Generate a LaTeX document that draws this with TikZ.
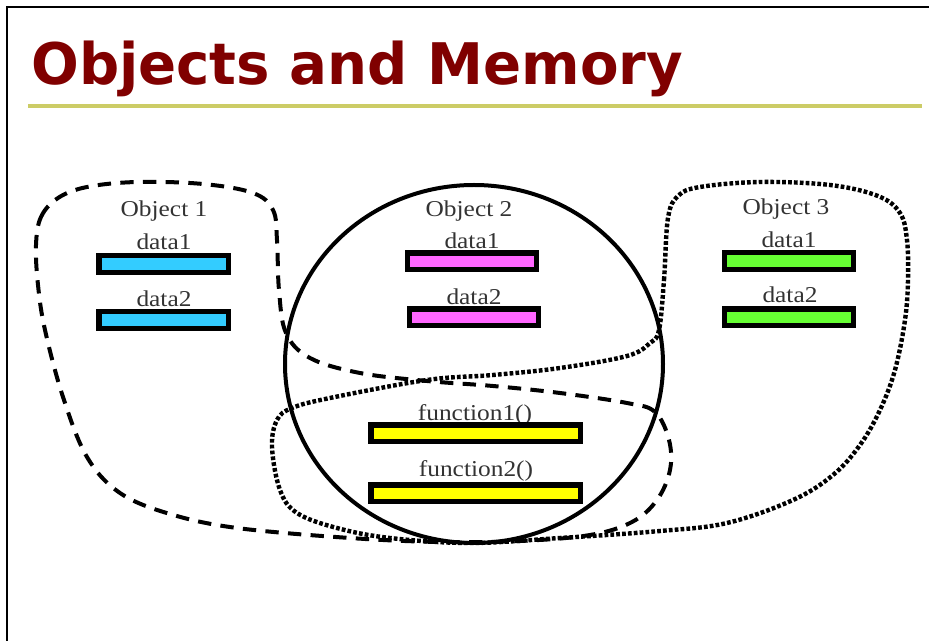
\documentclass[tikz,border=0pt]{standalone}
\usepackage{fontspec}
\setmainfont{Liberation Serif}
\newfontfamily\titlefont[FakeStretch=0.98]{DejaVu Sans}
\newfontfamily\labelfont[FakeStretch=1.12]{Liberation Serif}
\definecolor{titlered}{RGB}{128,0,0}
\definecolor{ruleolive}{RGB}{204,204,102}
\definecolor{barcyan}{RGB}{51,204,255}
\definecolor{barpink}{RGB}{255,102,255}
\definecolor{bargreen}{RGB}{102,255,51}
\definecolor{baryellow}{RGB}{255,255,0}

\begin{document}
\begin{tikzpicture}[x=0.75pt,y=-0.75pt,
  bar/.style={draw=black,line width=4pt,inner sep=0pt,minimum width=97pt,minimum height=12.5pt},
  funcbar/.style={bar,minimum width=157pt},
  lbl/.style={anchor=base,inner sep=0pt,text=black!80,font=\labelfont\fontsize{17}{20}\selectfont},
  dashline/.style={line width=3pt,dash pattern=on 10pt off 7pt},
  dotline/.style={line width=3.3pt,dash pattern=on 2.8pt off 1.6pt}]
\useasboundingbox (0,0) rectangle (929,641);
\draw[line width=1.5pt] (7,641) -- (7,7) -- (929,7);
\node[anchor=base west,inner sep=0pt,text=titlered,font=\titlefont\bfseries\fontsize{43}{50}\selectfont] (title) at (31,85) {Objects and Memory};
\draw[ruleolive,line width=2.6pt] (28,106) -- (922,106);

\draw[line width=3pt] (474,364) ellipse [x radius=189, y radius=179];

\draw[dashline] plot[smooth cycle,tension=0.6] coordinates {
  (36,245) (41,217) (58,198) (87,187) (137,182) (203,184) (253,193) (273,210)
  (277,240) (279,290) (286,333) (310,358) (360,373) (427,381) (493,386)
  (560,393) (627,403) (655,412) (669,440) (670,470) (657,500) (632,522)
  (590,535) (520,541) (440,542) (350,538) (237,528) (170,514) (120,493)
  (87,457) (63,397) (45,330) (38,285)};

\draw[dotline] plot[smooth cycle,tension=0.6] coordinates {
  (659,330) (664,280) (668,218) (678,196) (700,187) (760,182) (830,185)
  (878,196) (900,213) (907,240) (908,280) (905,320) (895,370) (880,410)
  (860,445) (833,475) (793,500) (727,523) (660,531) (560,538) (470,543)
  (390,538) (337,528) (297,513) (280,490) (272,447) (277,420) (292,408)
  (330,398) (427,380) (493,375) (560,368) (627,356) (650,343)};

\node[lbl] (obj1) at (164,217) {Object 1};
\node[lbl] (obj1lbla) at (164,250) {data1};
\node[bar,fill=barcyan] (obj1data1) at (163.5,264) {};
\node[lbl] (obj1lblb) at (164,307) {data2};
\node[bar,fill=barcyan] (obj1data2) at (163.5,320) {};

\node[lbl] (obj2) at (469,217) {Object 2};
\node[lbl] (obj2lbla) at (472,249) {data1};
\node[bar,fill=barpink] (obj2data1) at (472,261.5) {};
\node[lbl] (obj2lblb) at (474,305) {data2};
\node[bar,fill=barpink] (obj2data2) at (474,317.5) {};

\node[lbl] (obj3) at (786,215) {Object 3};
\node[lbl] (obj3lbla) at (789,248) {data1};
\node[bar,fill=bargreen] (obj3data1) at (789,261) {};
\node[lbl] (obj3lblb) at (790,303) {data2};
\node[bar,fill=bargreen] (obj3data2) at (789,317.5) {};

\node[lbl] (fnlbla) at (475,421) {function1()};
\node[funcbar,fill=baryellow] (fn1) at (475.5,433.5) {};
\node[lbl] (fnlblb) at (476,477) {function2()};
\node[funcbar,fill=baryellow] (fn2) at (475.5,493.5) {};
\end{tikzpicture}
\end{document}
